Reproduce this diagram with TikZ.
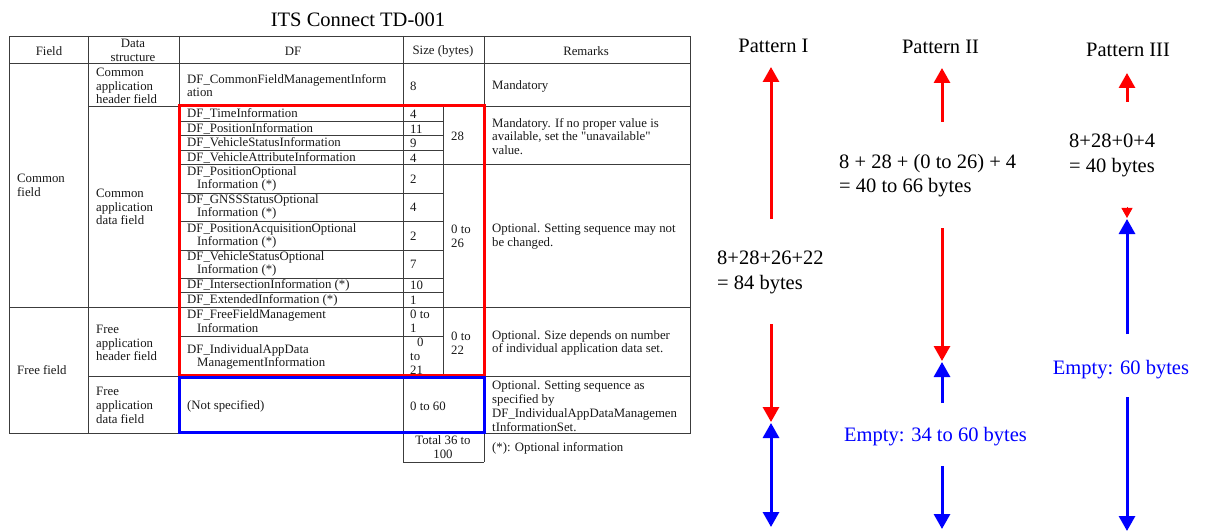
\documentclass[tikz,border=0pt]{standalone}
\usepackage{fontspec}
\setmainfont{Liberation Serif}[Ligatures=TeXOff]
\usetikzlibrary{arrows.meta}
\definecolor{pred}{RGB}{255,0,0}
\definecolor{pblue}{RGB}{0,0,255}
\definecolor{gridc}{RGB}{60,60,60}
\begin{document}
\begin{tikzpicture}[x=1pt,y=-1pt,
  tab/.style={font=\fontsize{12.8}{13.8}\selectfont, inner sep=0pt, text=black!90, align=left, anchor=west},
  tabc/.style={tab, align=center, anchor=center},
  big/.style={font=\fontsize{20.5}{24.5}\selectfont, inner sep=0pt, text=black},
  bigblue/.style={big, text=pblue},
  gridline/.style={draw=gridc, line width=0.9pt},
  redbox/.style={draw=pred, line width=3pt},
  bluebox/.style={draw=pblue, line width=3pt},
  rarrow/.style={draw=pred, line width=3pt, -{Triangle[width=16pt,length=15pt]}},
  rsmall/.style={draw=pred, line width=1pt, -{Triangle[width=11pt,length=10pt]}},
  barrow/.style={draw=pblue, line width=3pt, -{Triangle[width=16pt,length=15pt]}},
  bdarrow/.style={draw=pblue, line width=3pt, {Triangle[width=16pt,length=15pt]}-{Triangle[width=16pt,length=15pt]}}
]
\fill[white] (0,0) rectangle (1211,532);
\useasboundingbox (0,0) rectangle (1211,532);

% title
\node[big, anchor=base] (title) at (358,27) {ITS Connect TD-001};

% grid
\draw[gridline] (9,36) rectangle (690,433);
\draw[gridline] (9,63) -- (690,63);
\draw[gridline] (88,36) -- (88,433);
\draw[gridline] (179,36) -- (179,433);
\draw[gridline] (403,36) -- (403,462);
\draw[gridline] (484,36) -- (484,462);
\draw[gridline] (443,106) -- (443,376);
\draw[gridline] (88,106) -- (690,106);
\foreach \yy in {121,135,150,193,221,250,278,292,336}
  \draw[gridline] (179,\yy) -- (443,\yy);
\draw[gridline] (179,164) -- (690,164);
\draw[gridline] (9,307) -- (690,307);
\draw[gridline] (88,376) -- (690,376);
\draw[gridline] (403,462) -- (484,462);

% header
\node[tabc] (hfield) at (49,51) {Field};
\node[tabc] (hds) at (133,50) {Data\\structure};
\node[tabc] (hdf) at (293,51) {DF};
\node[tabc] (hsize) at (443,51) {Size (bytes)};
\node[tabc] (hrem) at (586,51) {Remarks};

% field column
\node[tab] (f1) at (17,185.5) {Common\\field};
\node[tab] (f2) at (17,370) {Free field};

% data structure column
\node[tab] (ds1) at (96,86) {Common\\application\\header field};
\node[tab] (ds2) at (96,207) {Common\\application\\data field};
\node[tab] (ds3) at (96,343) {Free\\application\\header field};
\node[tab] (ds4) at (96,405.5) {Free\\application\\data field};

% DF column
\node[tab] (df0) at (187,85.5) {DF\_CommonFieldManagementInform\\ation};
\node[tab] (df1) at (187,114) {DF\_TimeInformation};
\node[tab] (df2) at (187,129) {DF\_PositionInformation};
\node[tab] (df3) at (187,143) {DF\_VehicleStatusInformation};
\node[tab] (df4) at (187,158) {DF\_VehicleAttributeInformation};
\node[tab] (df5) at (187,179) {DF\_PositionOptional\\\hspace*{10pt}Information (*)};
\node[tab] (df6) at (187,207) {DF\_GNSSStatusOptional\\\hspace*{10pt}Information (*)};
\node[tab] (df7) at (187,236) {DF\_PositionAcquisitionOptional\\\hspace*{10pt}Information (*)};
\node[tab] (df8) at (187,264) {DF\_VehicleStatusOptional\\\hspace*{10pt}Information (*)};
\node[tab] (df9) at (187,285) {DF\_IntersectionInformation (*)};
\node[tab] (df10) at (187,300) {DF\_ExtendedInformation (*)};
\node[tab] (df11) at (187,321.5) {DF\_FreeFieldManagement\\\hspace*{10pt}Information};
\node[tab] (df12) at (187,357) {DF\_IndividualAppData\\\hspace*{10pt}ManagementInformation};
\node[tab] (df13) at (187,406) {(Not specified)};

% size column
\node[tab] (s0) at (410,86) {8};
\node[tab] (s1) at (410,114) {4};
\node[tab] (s2) at (410,129) {11};
\node[tab] (s3) at (410,143) {9};
\node[tab] (s4) at (410,158) {4};
\node[tab] (s5) at (410,179) {2};
\node[tab] (s6) at (410,207) {4};
\node[tab] (s7) at (410,236) {2};
\node[tab] (s8) at (410,264) {7};
\node[tab] (s9) at (410,285) {10};
\node[tab] (s10) at (410,300) {1};
\node[tab] (s11) at (410,321.5) {0 to\\1};
\node[tab] (s12) at (410,356.5) {\hspace*{7pt}0\\to\\21};
\node[tab] (g1) at (451,136) {28};
\node[tab] (g2) at (451,236.5) {0 to\\26};
\node[tab] (g3) at (451,343) {0 to\\22};
\node[tab] (s13) at (410,406) {0 to 60};
\node[tabc] (tot) at (443,447.5) {Total 36 to\\100};

% remarks column
\node[tab] (r1) at (492,86) {Mandatory};
\node[tab] (r2) at (492,136.5) {Mandatory. If no proper value is\\available, set the "unavailable"\\value.};
\node[tab] (r3) at (492,236.5) {Optional. Setting sequence may not\\be changed.};
\node[tab] (r4) at (492,343) {Optional. Size depends on number\\of individual application data set.};
\node[tab] (r5) at (492,406) {Optional. Setting sequence as\\specified by\\DF\_IndividualAppDataManagemen\\tInformationSet.};
\node[tab] (r6) at (492,448) {(*): Optional information};

% highlight boxes
\draw[redbox] (179,106) rectangle (484,375);
\draw[bluebox] (179,377.5) rectangle (484,432);

% patterns
\node[big, anchor=base] (pI) at (773.5,52.7) {Pattern I};
\node[big, anchor=base] (pII) at (940.5,54) {Pattern II};
\node[big, anchor=base] (pIII) at (1128,56.7) {Pattern III};

\node[big, anchor=west, align=left] (e1) at (717,272.5) {8+28+26+22\\= 84 bytes};
\node[big, anchor=west, align=left] (e2) at (839,175.5) {8 + 28 + (0 to 26) + 4\\= 40 to 66 bytes};
\node[big, anchor=west, align=left] (e3) at (1069,155.5) {8+28+0+4\\= 40 bytes};
\node[bigblue, anchor=base] (m2) at (935.5,441.7) {Empty: 34 to 60 bytes};
\node[bigblue, anchor=base] (m3) at (1121,374) {Empty: 60 bytes};

% arrow end points
\coordinate (a1s) at (771,219); \coordinate (a1t) at (771,67);
\coordinate (a2s) at (771,324); \coordinate (a2t) at (771,422);
\coordinate (a3s) at (771,423); \coordinate (a3t) at (771,527);
\coordinate (b1s) at (942,122); \coordinate (b1t) at (942,68);
\coordinate (b2s) at (942,228); \coordinate (b2t) at (942,361);
\coordinate (b3s) at (942,403); \coordinate (b3t) at (942,362);
\coordinate (b4s) at (942,466); \coordinate (b4t) at (942,529);
\coordinate (c1s) at (1127,102); \coordinate (c1t) at (1127,73);
\coordinate (c2s) at (1127,207); \coordinate (c2t) at (1127,218);
\coordinate (c3s) at (1127,334); \coordinate (c3t) at (1127,219);
\coordinate (c4s) at (1127,397); \coordinate (c4t) at (1127,531);

\draw[rarrow] (a1s) -- (a1t);
\draw[rarrow] (a2s) -- (a2t);
\draw[bdarrow] (a3s) -- (a3t);
\draw[rarrow] (b1s) -- (b1t);
\draw[rarrow] (b2s) -- (b2t);
\draw[barrow] (b3s) -- (b3t);
\draw[barrow] (b4s) -- (b4t);
\draw[rarrow] (c1s) -- (c1t);
\draw[rsmall] (c2s) -- (c2t);
\draw[barrow] (c3s) -- (c3t);
\draw[barrow] (c4s) -- (c4t);
\end{tikzpicture}
\end{document}
